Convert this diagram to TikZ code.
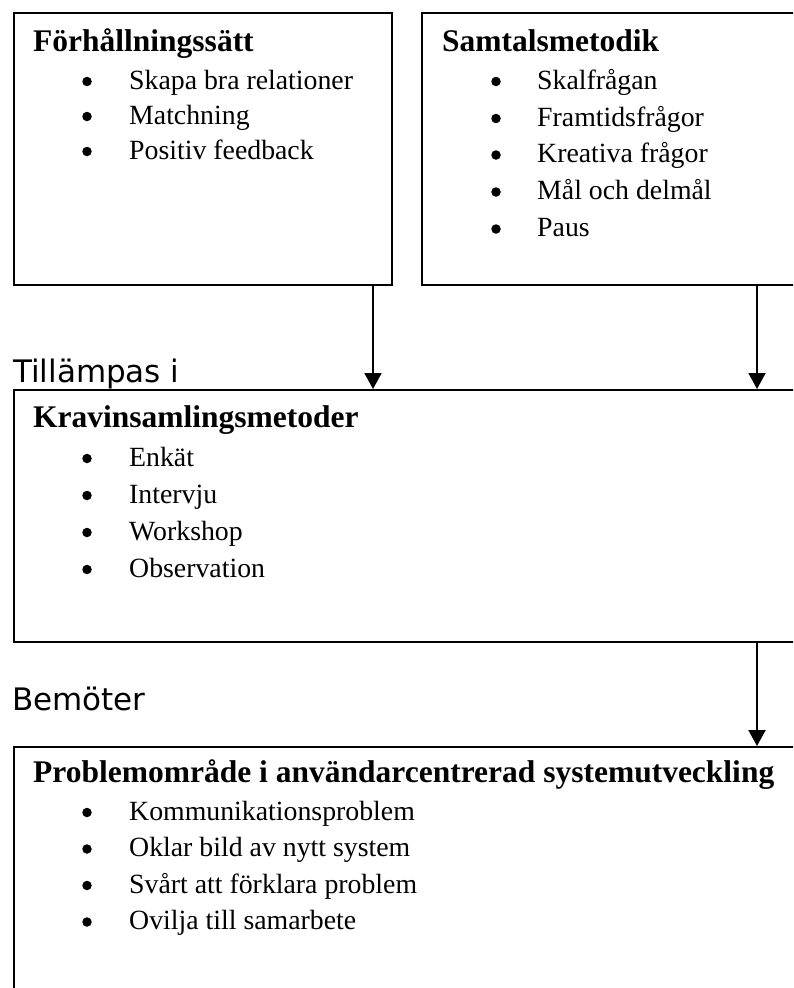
\documentclass[tikz,border=0pt]{standalone}
\usepackage{fontspec}
\setmainfont{Liberation Serif}
\newfontfamily\labelfont{DejaVu Sans}
\usetikzlibrary{arrows.meta}

% one bulleted line: name, bullet x, text x, baseline y, text
\newcommand\bitem[5]{%
  \node[dot] (#1d) at (#2,#4-7.5) {};
  \node[item] (#1) at (#3,#4) {#5};}

\begin{document}
\begin{tikzpicture}[x=1pt,y=-1pt,
  box/.style={draw, line width=2pt, inner sep=0pt, anchor=north west},
  head/.style={anchor=base west, inner sep=0pt, font=\fontsize{31.5}{34}\selectfont\bfseries},
  item/.style={anchor=base west, inner sep=0pt, font=\fontsize{27.8}{30}\selectfont},
  dot/.style={circle, fill, inner sep=0pt, minimum size=9.5pt},
  lbl/.style={anchor=base west, inner sep=0pt, font=\labelfont\fontsize{31}{34}\selectfont},
  arr/.style={line width=2pt, -{Triangle[length=16pt,width=17pt]}}]
\useasboundingbox (0,0) rectangle (793,988);
\clip (0,0) rectangle (793,988);
\fill[white] (0,0) rectangle (793,988);

% frames
\node[box, minimum width=378pt, minimum height=272pt] (b1) at (13,12) {};
\node[box, minimum width=400pt, minimum height=272pt] (b2) at (421,12) {};
\node[box, minimum width=800pt, minimum height=252pt] (b3) at (13,389) {};
\node[box, minimum width=800pt, minimum height=300pt] (b4) at (13,746) {};

% box 1
\node[head] (h1) at (33,51) {Förhållningssätt};
\bitem{p1}{87}{129}{89}{Skapa bra relationer}
\bitem{p2}{87}{129}{124}{Matchning}
\bitem{p3}{87}{129}{159}{Positiv feedback}

% box 2
\node[head] (h2) at (442,51) {Samtalsmetodik};
\bitem{s1}{496}{537}{89}{Skalfrågan}
\bitem{s2}{496}{537}{126}{Framtidsfrågor}
\bitem{s3}{496}{537}{162.5}{Kreativa frågor}
\bitem{s4}{496}{537}{199.5}{Mål och delmål}
\bitem{s5}{496}{537}{236.5}{Paus}

% box 3
\node[head] (h3) at (33,427) {Kravinsamlingsmetoder};
\bitem{k1}{87}{129}{466}{Enkät}
\bitem{k2}{87}{129}{503}{Intervju}
\bitem{k3}{87}{129}{540}{Workshop}
\bitem{k4}{87}{129}{577}{Observation}

% box 4
\node[head] (h4) at (33,782) {Problemområde i användarcentrerad systemutveckling};
\bitem{q1}{87}{129}{820}{Kommunikationsproblem}
\bitem{q2}{87}{129}{856.5}{Oklar bild av nytt system}
\bitem{q3}{87}{129}{893}{Svårt att förklara problem}
\bitem{q4}{87}{129}{929.5}{Ovilja till samarbete}

% connector labels
\node[lbl] (l1) at (13,382) {Tillämpas i};
\node[lbl] (l2) at (12,710) {Bemöter};

% connectors
\coordinate (xa) at (373,0);
\coordinate (xb) at (757,0);
\draw[arr] (xa |- b1.south) -- (xa |- b3.north);
\draw[arr] (xb |- b2.south) -- (xb |- b3.north);
\draw[arr] (xb |- b3.south) -- (xb |- b4.north);
\end{tikzpicture}
\end{document}
